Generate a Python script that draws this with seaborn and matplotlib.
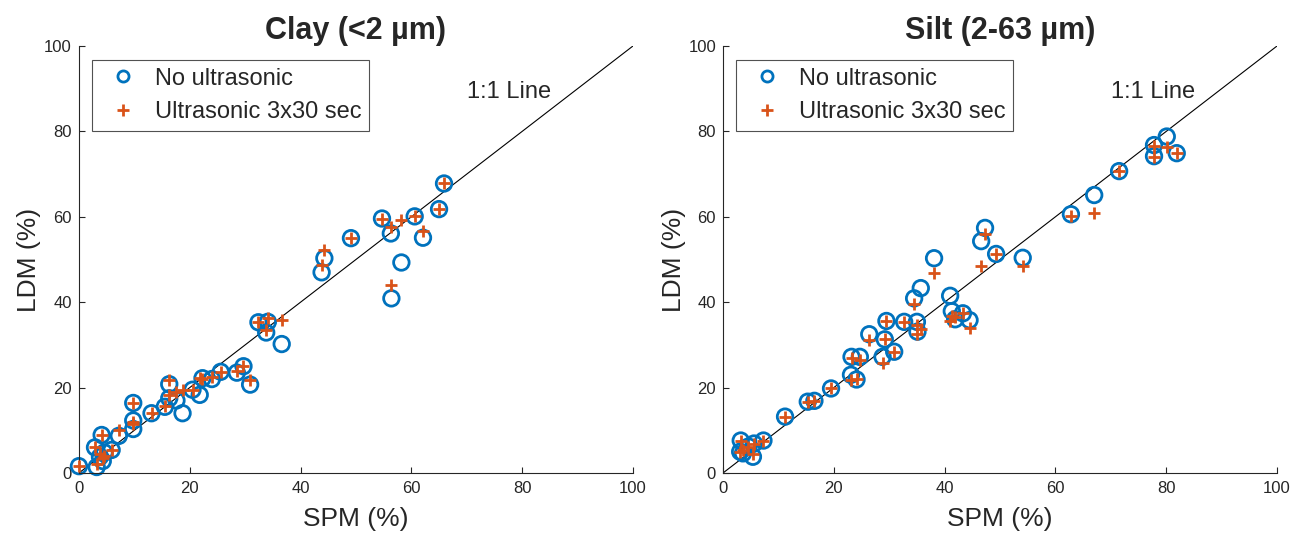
import numpy as np
import pandas as pd
import seaborn as sns
import matplotlib.pyplot as plt
from matplotlib.lines import Line2D

# Clay fraction (<2 um): SPM reference vs LDM, without / with ultrasonic dispersion
clay_spm = [0.0, 2.9, 3.2, 4.3, 4.1, 4.6, 3.8, 5.9, 7.2, 9.8, 9.8, 9.8, 13.1,
            15.5, 16.3, 16.3, 17.6, 18.7, 20.5, 21.8, 22.3, 24.0, 25.6, 28.5,
            29.7, 30.9, 32.4, 33.8, 34.1, 36.6, 43.8, 44.3, 49.1, 54.7, 56.3,
            56.4, 58.2, 60.6, 62.1, 65.0, 65.9]
clay_ldm_no = [1.6, 6.0, 1.4, 2.8, 8.9, 4.8, 3.8, 5.4, 8.7, 10.3, 12.3, 16.4,
               14.0, 15.5, 17.5, 20.8, 17.0, 14.0, 19.5, 18.3, 22.2, 22.0, 23.7,
               23.5, 25.0, 20.7, 35.3, 32.9, 35.4, 30.2, 47.0, 50.3, 55.0, 59.6,
               56.1, 40.9, 49.3, 60.1, 55.1, 61.8, 67.8]
clay_ldm_us = [1.6, 6.0, 2.0, 3.5, 8.9, 4.0, 4.5, 5.4, 10.0, 12.0, 11.5, 16.5,
               14.0, 15.8, 18.3, 21.8, 19.0, 19.4, 19.5, 22.2, 22.0, 22.4, 23.7,
               24.0, 25.0, 21.8, 35.3, 33.5, 36.3, 35.8, 48.7, 52.2, 55.0, 59.6,
               57.6, 44.0, 59.3, 60.2, 56.6, 61.8, 67.8]

# Silt fraction (2-63 um)
silt_spm = [3.2, 3.1, 3.6, 4.6, 5.6, 5.4, 7.3, 11.2, 15.3, 16.5, 19.5, 23.1,
            24.1, 23.2, 24.7, 26.4, 28.8, 29.2, 29.5, 30.9, 32.7, 35.0, 35.1,
            35.7, 34.5, 38.1, 41.0, 41.3, 41.9, 43.3, 44.5, 46.6, 47.3, 49.3,
            54.1, 62.8, 67.0, 71.5, 77.8, 77.8, 80.1, 81.9]
silt_ldm_no = [7.6, 5.0, 4.6, 6.2, 6.9, 3.8, 7.6, 13.2, 16.7, 16.9, 19.8, 23.0,
               21.9, 27.2, 27.2, 32.5, 27.2, 31.3, 35.6, 28.4, 35.4, 35.4, 33.1,
               43.3, 40.9, 50.3, 41.5, 37.9, 36.0, 37.4, 35.8, 54.3, 57.4, 51.3,
               50.4, 60.6, 65.1, 70.7, 76.8, 74.2, 78.8, 74.9]
silt_ldm_us = [7.6, 5.0, 5.5, 6.2, 6.9, 4.5, 7.6, 13.2, 16.7, 16.9, 19.8, 21.8,
               21.9, 27.0, 26.5, 31.1, 25.7, 31.3, 35.6, 28.4, 35.4, 34.7, 32.5,
               33.7, 39.5, 46.9, 35.6, 36.8, 36.5, 37.4, 33.9, 48.5, 56.0, 51.3,
               48.5, 60.2, 60.8, 70.7, 76.5, 74.0, 76.3, 74.9]

panel_titles = ["Clay (<2 µm)", "Silt (2-63 µm)"]
series_labels = ["No ultrasonic", "Ultrasonic 3x30 sec"]
ticks = [0, 20, 40, 60, 80, 100]

BLUE = "#0072BD"
ORANGE = "#D95319"

sns.set_theme(style="ticks")
plt.rcParams["font.family"] = ["Liberation Sans", "DejaVu Sans"]
plt.rcParams["axes.edgecolor"] = "#262626"
plt.rcParams["xtick.color"] = "#262626"
plt.rcParams["ytick.color"] = "#262626"

fig = plt.figure(figsize=(12.92, 5.35), dpi=100)
ax_l = fig.add_axes([0.0611, 0.1159, 0.4288, 0.7981])
ax_r = fig.add_axes([0.5596, 0.1159, 0.4288, 0.7981])

panels = [
    (ax_l, clay_spm, clay_ldm_no, clay_ldm_us, panel_titles[0]),
    (ax_r, silt_spm, silt_ldm_no, silt_ldm_us, panel_titles[1]),
]

for ax, spm, no_us, us, title in panels:
    df = pd.DataFrame({"SPM": spm, "no": no_us, "us": us})
    ax.axline((0, 0), slope=1, color="black", lw=0.8, zorder=1)
    sns.scatterplot(data=df, x="SPM", y="no", ax=ax, marker="o", s=125,
                    facecolors="none", edgecolor=BLUE, linewidth=2.0,
                    zorder=2, clip_on=False)
    sns.scatterplot(data=df, x="SPM", y="us", ax=ax, marker="+", s=85,
                    color=ORANGE, linewidth=2.0, zorder=3, clip_on=False)
    ax.set_xlim(0, 100)
    ax.set_ylim(0, 100)
    ax.set_xticks(ticks)
    ax.set_yticks(ticks)
    ax.tick_params(direction="in", length=4, width=0.8, labelsize=12, pad=5)
    ax.tick_params(axis="x", pad=6)
    for s in ("top", "right"):
        ax.spines[s].set_visible(False)
    for s in ("left", "bottom"):
        ax.spines[s].set_linewidth(0.8)
    ax.set_xlabel("SPM (%)", fontsize=19, labelpad=8)
    ax.set_ylabel("LDM (%)", fontsize=19, labelpad=2)
    ax.set_title(title, fontsize=22, fontweight="bold", pad=3)
    ax.text(77.7, 89.3, "1:1 Line", fontsize=17, ha="center", va="center")

    handles = [
        Line2D([], [], marker="o", linestyle="none", markersize=8,
               markerfacecolor="none", markeredgecolor=BLUE, markeredgewidth=2),
        Line2D([], [], marker="+", linestyle="none", markersize=9,
               color=ORANGE, markeredgewidth=2),
    ]
    leg = ax.legend(handles, series_labels, loc="upper left",
                    bbox_to_anchor=(0.023, 0.967), borderaxespad=0,
                    fontsize=17, frameon=True, fancybox=False,
                    handletextpad=0.35, borderpad=0.32, labelspacing=0.5,
                    handlelength=2.0)
    leg.get_frame().set_edgecolor("#262626")
    leg.get_frame().set_linewidth(0.8)

fig.savefig("out.png", dpi=100)
